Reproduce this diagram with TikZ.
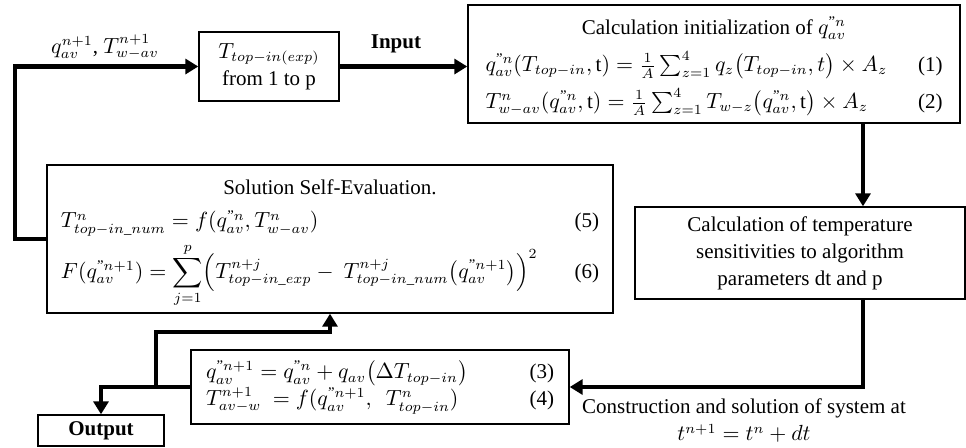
\documentclass[tikz,border=0pt]{standalone}
\usepackage{amsmath,amssymb}
\usepackage{fontspec}
\setmainfont{Liberation Serif}
\usepackage{xcolor}
\usepackage{tikz}
\usetikzlibrary{arrows.meta, positioning, calc}

\newcommand{\qdd}[1]{q^{\text{"}#1}_{av}}

\begin{document}
\begin{tikzpicture}[
    x=0.5pt, y=-0.5pt,
    font=\fontsize{10.5pt}{13.5pt}\selectfont,
    block/.style={rectangle, draw, line width=0.7pt, inner sep=0pt, align=center},
    arrow/.style={-{Triangle[length=6.5pt, width=7.5pt]}, line width=2.2pt},
    note/.style={font=\fontsize{10.5pt}{13.5pt}\selectfont\bfseries, inner sep=0pt}
]
    \useasboundingbox (0,0) rectangle (966,447);

    % Nodes
    \node[block, minimum width=70pt, minimum height=34.5pt] (texp) at (269,66.5) {$T_{top-in(exp)}$\\from 1 to p};
    \node[block, minimum width=246pt, minimum height=59pt] (init) at (714,64) {%
        {\renewcommand{\arraystretch}{1.37}%
        \begin{tabular*}{228.5pt}{@{}l@{\extracolsep{\fill}}r@{}}
            \multicolumn{2}{c}{Calculation initialization of $\qdd{n}$}\\
            $\qdd{n}(T_{top-in},\mathrm{t}) = \frac{1}{A}\sum_{z=1}^{4} q_z\bigl(T_{top-in}, t\bigr)\times A_z$ & (1)\\
            $T^{n}_{w-av}(\qdd{n},\mathrm{t}) = \frac{1}{A}\sum_{z=1}^{4} T_{w-z}\bigl(\qdd{n},\mathrm{t}\bigr)\times A_z$ & (2)
        \end{tabular*}}};
    \node[block, minimum width=165pt, minimum height=46pt] (sens) at (800,253) {Calculation of temperature\\sensitivities to algorithm\\parameters dt and p};
    \node[block, minimum width=283pt, minimum height=74pt] (eval) at (330,239) {%
        {\renewcommand{\arraystretch}{1.25}%
        \begin{tabular*}{269pt}{@{}l@{\extracolsep{\fill}}r@{}}
            \multicolumn{2}{c}{Solution Self-Evaluation.}\\
            $T^{n}_{top-in\_num} = f(\qdd{n}, T^{n}_{w-av})$ & (5)\\[2.5pt]
            $F(\qdd{n+1}) = \displaystyle\sum_{j=1}^{p}\Bigl(T^{n+j}_{top-in\_exp} -\ T^{n+j}_{top-in\_num}\bigl(\qdd{n+1}\bigr)\Bigr)^{2}$ & (6)\\[4pt]
        \end{tabular*}}};
    \node[block, minimum width=189pt, minimum height=37pt] (upd) at (380,387) {%
        \begin{tabular*}{174pt}{@{}l@{\extracolsep{\fill}}r@{}}
            $\qdd{n+1} = \qdd{n} + q_{av}\bigl(\Delta T_{top-in}\bigr)$ & (3)\\
            $T^{n+1}_{av-w}\ = f(\qdd{n+1},\ \ T^{n}_{top-in})$ & (4)
        \end{tabular*}};
    \node[block, font=\fontsize{10.5pt}{13.5pt}\selectfont\bfseries, minimum width=63pt, minimum height=15.5pt] (output) at (101,430.5) {Output};

    \coordinate (rx) at (863,0);
    \coordinate (lx) at (15,0);
    \coordinate (br) at (156,387);

    % Arrows
    \draw[arrow] (texp.east) -- (texp.east -| init.west);
    \draw[arrow] (init.south -| rx) -- (sens.north -| rx);
    \draw[arrow] (sens.south -| rx) |- (upd.east);
    \draw[arrow] (upd.west) -| (output.north);
    \draw[arrow] (br) -- ++(0,-55) -| (eval.south);
    \draw[arrow] (eval.west) -- (eval.west -| lx) |- (texp.west);

    % Labels
    \node[note] (input) at (396,44) {Input};
    \node (fb) at (105,47) {$q_{av}^{n+1}$, $T_{w-av}^{n+1}$};
    \node[align=center, inner sep=0pt] (constr) at (744,421) {Construction and solution of system at\\$t^{n+1} = t^{n} + dt$};
\end{tikzpicture}
\end{document}
